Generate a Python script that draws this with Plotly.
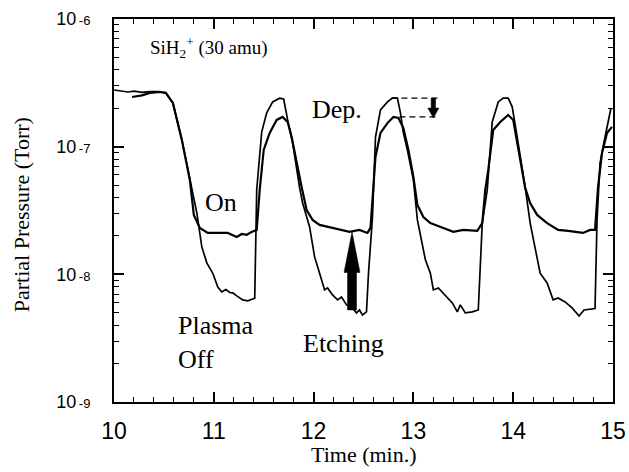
import numpy as np
import plotly.graph_objects as go

# ---------------- data ----------------
time_off = [10.00, 10.08, 10.14, 10.20, 10.28, 10.36, 10.46, 10.52, 10.59, 10.68,
            10.76, 10.83, 10.88, 10.93, 10.99, 11.04, 11.08, 11.12, 11.16, 11.19,
            11.23, 11.29, 11.34, 11.38, 11.41, 11.43, 11.48, 11.53, 11.59, 11.66,
            11.70, 11.74, 11.79, 11.86, 11.89, 11.96, 12.01, 12.06, 12.11, 12.14,
            12.19, 12.24, 12.28, 12.33, 12.38, 12.43, 12.46, 12.49, 12.53, 12.55,
            12.59, 12.60, 12.62, 12.67, 12.74, 12.79, 12.84, 12.87, 12.90, 12.94,
            13.00, 13.04, 13.12, 13.17, 13.20, 13.25, 13.34, 13.39, 13.44, 13.47,
            13.52, 13.59, 13.65, 13.69, 13.74, 13.79, 13.85, 13.90, 13.95, 13.99,
            14.04, 14.12, 14.17, 14.27, 14.34, 14.40, 14.45, 14.52, 14.59, 14.66,
            14.71, 14.80, 14.82, 14.84, 14.87, 14.92, 14.98]
p_off = [2.78e-7, 2.72e-7, 2.68e-7, 2.72e-7, 2.66e-7, 2.70e-7, 2.70e-7, 2.62e-7, 2.20e-7, 1.13e-7,
         5.49e-8, 3.03e-8, 1.64e-8, 1.23e-8, 1.02e-8, 7.96e-9, 7.28e-9, 7.60e-9, 7.20e-9, 7.15e-9,
         6.78e-9, 6.31e-9, 6.20e-9, 6.40e-9, 6.50e-9, 4.60e-8, 1.30e-7, 1.84e-7, 2.24e-7, 2.40e-7,
         2.36e-7, 1.62e-7, 1.07e-7, 4.75e-8, 3.62e-8, 2.35e-8, 1.37e-8, 1.02e-8, 7.55e-9, 7.83e-9,
         6.90e-9, 6.31e-9, 6.65e-9, 5.76e-9, 5.56e-9, 4.99e-9, 5.26e-9, 4.81e-9, 5.08e-9, 1.02e-8,
         2.81e-8, 4.58e-8, 1.19e-7, 1.94e-7, 2.24e-7, 2.40e-7, 2.40e-7, 1.84e-7, 1.28e-7, 9.42e-8,
         5.49e-8, 2.67e-8, 1.30e-8, 1.02e-8, 7.55e-9, 7.83e-9, 6.65e-9, 5.97e-9, 5.08e-9, 5.76e-9,
         4.99e-9, 5.08e-9, 5.26e-9, 2.52e-8, 4.58e-8, 1.56e-7, 2.24e-7, 2.40e-7, 2.40e-7, 2.05e-7,
         1.19e-7, 4.83e-8, 2.52e-8, 1.02e-8, 8.57e-9, 6.31e-9, 6.53e-9, 6.08e-9, 5.46e-9, 4.72e-9,
         5.26e-9, 5.36e-9, 5.40e-9, 2.67e-8, 7.45e-8, 1.19e-7, 2.01e-7]

time_on = [10.18, 10.28, 10.36, 10.46, 10.52, 10.59, 10.68, 10.76, 10.80, 10.86,
           10.94, 11.04, 11.14, 11.18, 11.23, 11.28, 11.33, 11.38, 11.43, 11.46,
           11.50, 11.56, 11.63, 11.69, 11.74, 11.78, 11.83, 11.88, 11.93, 11.99,
           12.06, 12.19, 12.26, 12.36, 12.46, 12.54, 12.57, 12.60, 12.62, 12.67,
           12.74, 12.80, 12.85, 12.90, 12.95, 13.00, 13.04, 13.10, 13.17, 13.30,
           13.40, 13.50, 13.64, 13.69, 13.72, 13.75, 13.80, 13.87, 13.95, 14.00,
           14.05, 14.12, 14.17, 14.24, 14.34, 14.40, 14.45, 14.55, 14.62, 14.70,
           14.77, 14.82, 14.85, 14.89, 14.94, 14.99]
p_on = [2.45e-7, 2.52e-7, 2.64e-7, 2.68e-7, 2.64e-7, 2.20e-7, 1.13e-7, 5.49e-8, 2.92e-8, 2.31e-8,
        2.11e-8, 2.11e-8, 2.11e-8, 2.04e-8, 1.96e-8, 2.07e-8, 2.04e-8, 2.15e-8, 2.23e-8, 4.58e-8,
        9.42e-8, 1.28e-7, 1.62e-7, 1.71e-7, 1.56e-7, 1.19e-7, 7.45e-8, 4.83e-8, 3.19e-8, 2.67e-8,
        2.44e-8, 2.31e-8, 2.23e-8, 2.15e-8, 2.23e-8, 2.11e-8, 2.31e-8, 4.58e-8, 8.30e-8, 1.28e-7,
        1.53e-7, 1.71e-7, 1.68e-7, 1.40e-7, 9.42e-8, 5.80e-8, 3.49e-8, 2.81e-8, 2.52e-8, 2.31e-8,
        2.15e-8, 2.23e-8, 2.19e-8, 2.52e-8, 4.58e-8, 6.57e-8, 1.35e-7, 1.56e-7, 1.77e-7, 1.62e-7,
        9.95e-8, 4.75e-8, 3.62e-8, 2.92e-8, 2.52e-8, 2.35e-8, 2.23e-8, 2.19e-8, 2.15e-8, 2.11e-8,
        2.23e-8, 2.23e-8, 4.83e-8, 8.93e-8, 1.28e-7, 1.43e-7]

x_ticks = [10, 11, 12, 13, 14, 15]
x_tick_labels = ["10", "11", "12", "13", "14", "15"]
y_ticks = [1e-9, 1e-8, 1e-7, 1e-6]
y_exponents = ["-9", "-8", "-7", "-6"]

# annotation anchors (data units)
etch_arrow_time = 12.385
etch_arrow_from = 5.26e-9
etch_arrow_to = 2.15e-8
dep_arrow_time = 13.20
dep_level_off = 2.40e-7
dep_level_on = 1.71e-7
dep_top_start = 12.78
dep_bottom_start = 12.86
dep_end = 13.26

# ---------------- figure ----------------
fig = go.Figure()
fig.add_trace(go.Scatter(x=time_off, y=p_off, mode="lines",
                         line=dict(color="black", width=1.7), hoverinfo="skip"))
fig.add_trace(go.Scatter(x=time_on, y=p_on, mode="lines",
                         line=dict(color="black", width=2.2), hoverinfo="skip"))

# dashed "Dep." guide lines
fig.add_trace(go.Scatter(x=[dep_top_start, dep_end], y=[dep_level_off, dep_level_off], mode="lines",
                         line=dict(color="black", width=1.3, dash="6px,4px"), hoverinfo="skip"))
fig.add_trace(go.Scatter(x=[dep_bottom_start, dep_end], y=[dep_level_on, dep_level_on], mode="lines",
                         line=dict(color="black", width=1.3, dash="6px,4px"), hoverinfo="skip"))


def arrow_polygon(xc, y_from, y_to, head_frac, half_shaft, half_head):
    lf, lt = np.log10(y_from), np.log10(y_to)
    base = 10 ** (lt + (lf - lt) * head_frac)
    xs = [xc - half_shaft, xc - half_shaft, xc - half_head, xc, xc + half_head,
          xc + half_shaft, xc + half_shaft, xc - half_shaft]
    ys = [y_from, base, base, y_to, base, base, y_from, y_from]
    return xs, ys


ax_, ay_ = arrow_polygon(etch_arrow_time, etch_arrow_from, etch_arrow_to, 0.52, 0.045, 0.08)
fig.add_trace(go.Scatter(x=ax_, y=ay_, mode="lines", fill="toself", fillcolor="black",
                         line=dict(color="black", width=0.5), hoverinfo="skip"))
dx_, dy_ = arrow_polygon(dep_arrow_time, dep_level_off, dep_level_on * 0.98, 0.5, 0.022, 0.055)
fig.add_trace(go.Scatter(x=dx_, y=dy_, mode="lines", fill="toself", fillcolor="black",
                         line=dict(color="black", width=0.5), hoverinfo="skip"))

serif = "Liberation Serif, Times New Roman, serif"
sans = "Liberation Sans, Arial, sans-serif"

y_tick_text = ["10<span style='font-size:13px'>\u2009" + e + "</span>" for e in y_exponents]
minor_y = [m * 10.0 ** e for e in range(-9, -6) for m in range(2, 10)]

annotations = [
    dict(x=10.34, y=-6.225, text="SiH<sub>2</sub><sup>+</sup> (30 amu)", xanchor="left",
         yanchor="middle", showarrow=False, font=dict(family=serif, size=19, color="black")),
    dict(x=11.07, y=-7.44, text="On", xanchor="center", yanchor="middle", showarrow=False,
         font=dict(family=serif, size=26, color="black")),
    dict(x=10.62, y=-8.53, text="Plasma<br>Off", xanchor="left", yanchor="middle", align="left",
         showarrow=False, font=dict(family=serif, size=26, color="black")),
    dict(x=12.30, y=-8.545, text="Etching", xanchor="center", yanchor="middle", showarrow=False,
         font=dict(family=serif, size=26, color="black")),
    dict(x=12.23, y=-6.705, text="Dep.", xanchor="center", yanchor="middle", showarrow=False,
         font=dict(family=serif, size=26, color="black")),
    dict(x=0.5, y=-0.136, xref="paper", yref="paper", text="Time (min.)", showarrow=False,
         xanchor="center", yanchor="middle", font=dict(family=serif, size=22, color="black")),
    dict(x=-0.186, y=0.488, xref="paper", yref="paper", text="Partial Pressure (Torr)",
         textangle=-90, showarrow=False, xanchor="center", yanchor="middle",
         font=dict(family=serif, size=22, color="black")),
]

fig.update_layout(
    width=629, height=472,
    margin=dict(l=114, r=16, t=19, b=70, autoexpand=False),
    paper_bgcolor="white", plot_bgcolor="white",
    showlegend=False,
    annotations=annotations,
    xaxis=dict(
        range=[10, 15], tickmode="array", tickvals=x_ticks, ticktext=x_tick_labels,
        ticks="inside", ticklen=10, tickwidth=1.5, tickcolor="black",
        showline=True, linewidth=2, linecolor="black", mirror="ticks",
        showgrid=False, zeroline=False, ticklabelstandoff=7, automargin=False,
        tickfont=dict(family=sans, size=23, color="black"),
        minor=dict(ticks="inside", ticklen=5, tickwidth=1.3, tickcolor="black",
                   dtick=0.2, tick0=10, showgrid=False),
    ),
    yaxis=dict(
        type="log", range=[-9, -6], tickmode="array", tickvals=y_ticks, ticktext=y_tick_text,
        ticks="inside", ticklen=10, tickwidth=1.5, tickcolor="black",
        showline=True, linewidth=2, linecolor="black", mirror="ticks",
        showgrid=False, zeroline=False, ticklabelstandoff=18, automargin=False,
        tickfont=dict(family=sans, size=18, color="black"),
        minor=dict(ticks="inside", ticklen=5, tickwidth=1.3, tickcolor="black",
                   tickmode="array", tickvals=minor_y, showgrid=False),
    ),
)

fig.write_html("out.html", config={"displayModeBar": False},
               post_script="document.body.style.margin='0';")
